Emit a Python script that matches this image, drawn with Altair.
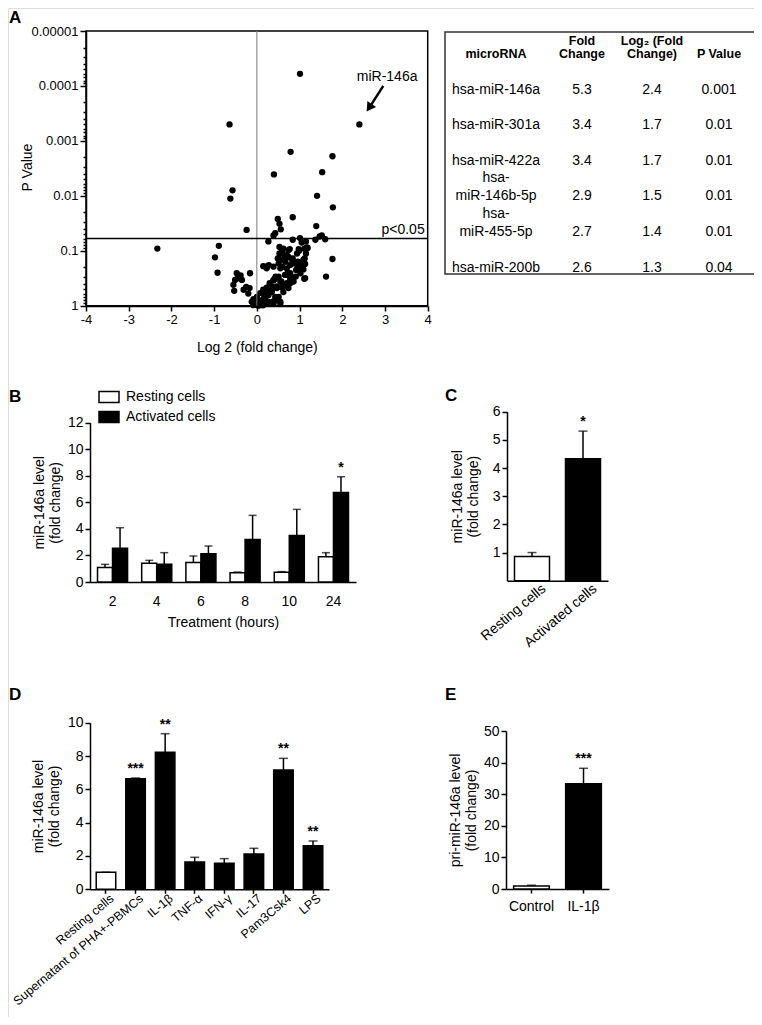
import altair as alt
import pandas as pd

FONT = "Liberation Sans"
W, H = 746, 1009

# ---------------- Panel A : volcano plot ----------------
A_LOG2FC = [
    1.01, 2.40, -0.64, 0.79, 1.77, 0.40, 1.53, -0.57, -0.62, 1.41,
    1.78, 0.84, 0.49, 0.53, 0.56, -0.24, 1.39, 0.43, 0.39, 0.27,
    0.84, 1.01, 1.05, 1.15, 1.37, 1.47, 1.52, 1.60, -2.33, -0.89,
    -0.98, -0.92, 1.77, 1.62, 0.53, 0.59, 0.74, 0.70, 0.99, 1.19,
    1.15, 0.51, 0.62, 0.82, 0.96, 1.09, 1.13, 1.05, 0.92, 0.15,
    0.23, 0.28, 0.70, 0.78, 0.82, 0.69, 1.11, 0.57,
    -0.47, -0.41, -0.51, -0.55, -0.35, -0.25, -0.16, -0.17, -0.53, -0.31, -0.44, -0.38, -0.20,
    0.43, 0.39, 0.31, 0.23, 0.15, 0.08, 0.00, -0.08, 0.01, 0.12, 0.19, 0.27, 0.35, 0.47,
    0.59, 0.66, 0.74, 0.78, 0.51, 0.43, 0.39, 0.55, 0.62, 0.27, 0.15, 0.04, -0.08,
    -0.04, -0.12, 0.00, 0.12, 0.23, 0.35, 0.47, 0.55,
    0.62, 0.77, 0.53, 0.64, 0.74, 0.84, 0.94, 0.98, 1.11, 1.17,
    1.12, 1.05, 0.96, 0.86, 0.78, 0.67, 0.59, 0.49, 0.51, 0.55,
    0.44, 0.66, 0.72, 0.78, 0.86, 0.91, 1.09, 1.13, 1.02, 0.70,
    0.62, 0.55, 0.47, 0.35, 0.27, 0.23, 0.20, 0.16, 0.12, 0.43,
    0.35, 0.30, 0.39, 0.21, 0.51, 0.39,
]
# -log10(P)
A_NEGLOG10P = [
    4.22, 3.30, 3.30, 2.80, 2.72, 2.39, 2.43, 2.10, 1.95, 2.00,
    1.79, 1.61, 1.58, 1.49, 1.39, 1.38, 1.45, 1.32, 1.28, 1.17,
    1.20, 1.23, 1.15, 1.17, 1.20, 1.26, 1.28, 1.21, 1.04, 1.09,
    0.88, 0.60, 0.85, 0.53, 1.07, 0.98, 1.01, 0.92, 1.00, 1.05,
    0.95, 0.86, 0.83, 0.84, 0.80, 0.84, 0.76, 0.68, 0.65, 0.72,
    0.68, 0.74, 0.68, 0.59, 0.50, 0.56, 0.49, 0.44,
    0.59, 0.53, 0.47, 0.38, 0.47, 0.34, 0.59, 0.32, 0.27, 0.29, 0.50, 0.55, 0.22,
    0.50, 0.46, 0.38, 0.33, 0.29, 0.23, 0.16, 0.12, 0.07, 0.10, 0.15, 0.19, 0.25, 0.32,
    0.33, 0.38, 0.32, 0.41, 0.16, 0.10, 0.04, 0.07, 0.25, 0.07, 0.01, 0.00, 0.01,
    0.10, 0.07, 0.01, 0.01, 0.04, 0.07, 0.10, 0.04,
    1.04, 1.03, 0.95, 0.92, 0.89, 0.86, 0.95, 1.03, 1.04, 1.06,
    0.86, 0.77, 0.71, 0.77, 0.74, 0.80, 0.71, 0.86, 0.77, 0.68,
    0.53, 0.56, 0.59, 0.48, 0.44, 0.53, 0.66, 0.50, 0.59, 0.41,
    0.35, 0.44, 0.35, 0.29, 0.22, 0.29, 0.19, 0.13, 0.07, 0.16,
    0.35, 0.41, 0.47, 0.71, 0.53, 0.71,
]
A_XTICKS = [-4, -3, -2, -1, 0, 1, 2, 3, 4]
A_DECADES = [0.00001, 0.0001, 0.001, 0.01, 0.1, 1.0]
A_THRESHOLD = 0.06
A_LABEL_POS = [3.05, 0.00007]
A_ARROW = [2.96, 0.0001, 2.63, 0.00025]

# ---------------- Table ----------------
T_HEADERS = ["microRNA", "Fold\nChange", "Log\u2082 (Fold\nChange)", "P Value"]
T_MIRNA = ["hsa-miR-146a", "hsa-miR-301a", "hsa-miR-422a", "hsa-\nmiR-146b-5p", "hsa-\nmiR-455-5p", "hsa-miR-200b"]
T_FOLD = ["5.3", "3.4", "3.4", "2.9", "2.7", "2.6"]
T_LOG2 = ["2.4", "1.7", "1.7", "1.5", "1.4", "1.3"]
T_PVAL = ["0.001", "0.01", "0.01", "0.01", "0.01", "0.04"]

# ---------------- Panel B ----------------
B_HOURS = ["2", "4", "6", "8", "10", "24"]
B_SERIES = ["Resting cells", "Activated cells"]
B_REST = [1.10, 1.41, 1.46, 0.70, 0.73, 1.91]
B_REST_SEM = [0.23, 0.22, 0.50, 0.05, 0.05, 0.30]
B_ACT = [2.54, 1.33, 2.13, 3.21, 3.51, 6.75]
B_ACT_SEM = [1.55, 0.88, 0.58, 1.81, 1.96, 1.18]
B_ACT_SIG = ["", "", "", "", "", "*"]

# ---------------- Panel C ----------------
C_GROUPS = ["Resting cells", "Activated cells"]
C_MEAN = [0.86, 4.33]
C_SEM = [0.14, 0.98]
C_SIG = ["", "*"]
C_FILL = ["white", "black"]

# ---------------- Panel D ----------------
D_GROUPS = ["Resting cells", "Supernatant of PHA+-PBMCs", "IL-1\u03b2", "TNF-\u03b1",
            "IFN-\u03b3", "IL-17", "Pam3Csk4", "LPS"]
D_MEAN = [1.02, 6.64, 8.22, 1.64, 1.56, 2.12, 7.16, 2.62]
D_SEM = [0.0, 0.04, 1.12, 0.28, 0.28, 0.34, 0.70, 0.28]
D_SIG = ["", "***", "**", "", "", "", "**", "**"]
D_FILL = ["white"] + ["black"] * 7

# ---------------- Panel E ----------------
E_GROUPS = ["Control", "IL-1\u03b2"]
E_MEAN = [0.95, 33.3]
E_SEM = [0.25, 4.9]
E_SIG = ["", "***"]
E_FILL = ["white", "black"]


def ax(**kw):
    base = dict(domainColor="black", domainWidth=1.5, tickColor="black", tickWidth=1.5,
                labelColor="black", labelFont=FONT, labelFontSize=14, titleFont=FONT,
                titleFontSize=14, titleFontWeight="normal", titleColor="black", grid=False,
                labelLimit=400, labelFlush=False)
    base.update(kw)
    return alt.Axis(**base)


# ===== Panel A =====
df_a = pd.DataFrame({"log2fc": A_LOG2FC, "nlp": A_NEGLOG10P})
xA = alt.Scale(domain=[-4, 4], range=[78, 419.7], nice=False, zero=False)
yA = alt.Scale(type="log", domain=[0.00001, 1], range=[23, 297.7], nice=False)
minor_vals = sorted(set([round(k * d, 10) for d in A_DECADES[:-1] for k in range(1, 10)] + [1.0]))
is_dec = "indexof([0.00001,0.0001,0.001,0.01,0.1,1], datum.value) >= 0"

a_points = alt.Chart(df_a).transform_calculate(p="pow(10, -datum.nlp)").mark_circle(
    size=40, color="black", opacity=1
).encode(
    x=alt.X("log2fc:Q", scale=xA,
            axis=ax(orient="bottom", offset=298 - H, values=A_XTICKS, labelExpr="datum.value + ''",
                    labelAlign="center", tickSize=5, labelFontSize=13, title="Log 2 (fold change)",
                    titlePadding=14)),
    y=alt.Y("p:Q", scale=yA,
            axis=ax(orient="left", offset=-78, values=minor_vals,
                    labelExpr=f"{is_dec} ? format(datum.value, '~g') : ''",
                    labelBaseline="middle", labelAlign="right",
                    tickSize={"condition": {"test": is_dec, "value": 6}, "value": 3},
                    labelFontSize=13, title="P Value", titleX=-52, titleY=159)),
)
one = pd.DataFrame({"k": [0]})
a_frame = alt.Chart(one).mark_rect(fillOpacity=0, stroke="black", strokeWidth=1.5).encode(
    x=alt.X(datum=-4, scale=xA), x2=alt.X2(datum=4),
    y=alt.Y(datum=0.00001, scale=yA), y2=alt.Y2(datum=1))
a_vline = alt.Chart(one).mark_rule(color="#7a7a7a", strokeWidth=1).encode(
    x=alt.X(datum=0, scale=xA), y=alt.Y(datum=0.00001, scale=yA), y2=alt.Y2(datum=1))
a_hline = alt.Chart(one).mark_rule(color="black", strokeWidth=1.5).encode(
    y=alt.Y(datum=A_THRESHOLD, scale=yA), x=alt.X(datum=-4, scale=xA), x2=alt.X2(datum=4))
a_ptxt = alt.Chart(one).mark_text(text="p<0.05", align="right", baseline="bottom", dx=-3, dy=-2,
                                  font=FONT, fontSize=14, color="black").encode(
    x=alt.X(datum=4, scale=xA), y=alt.Y(datum=A_THRESHOLD, scale=yA))
a_lbl = alt.Chart(one).mark_text(text="miR-146a", font=FONT, fontSize=14, color="black").encode(
    x=alt.X(datum=A_LABEL_POS[0], scale=xA), y=alt.Y(datum=A_LABEL_POS[1], scale=yA))
df_arrow = pd.DataFrame({"x0": [A_ARROW[0]], "y0": [A_ARROW[1]], "x1": [A_ARROW[2]], "y1": [A_ARROW[3]]})
a_arrow = alt.Chart(df_arrow).mark_rule(color="black", strokeWidth=2.5).encode(
    x=alt.X("x0:Q", scale=xA), y=alt.Y("y0:Q", scale=yA), x2="x1:Q", y2="y1:Q")
a_head = alt.Chart(df_arrow).mark_point(shape="triangle-up", filled=True, color="black", opacity=1,
                                        size=110, angle=214).encode(
    x=alt.X("x1:Q", scale=xA), y=alt.Y("y1:Q", scale=yA))
panelA = alt.layer(a_frame, a_points, a_vline, a_hline, a_ptxt, a_lbl, a_arrow, a_head)

# ===== Table =====
t_rows = []
for c, h in enumerate(T_HEADERS):
    t_rows.append({"col": c, "row": 0, "txt": h, "kind": "head2" if "\n" in h else "head1"})
for r in range(6):
    for c, lst in enumerate([T_MIRNA, T_FOLD, T_LOG2, T_PVAL]):
        t = lst[r]
        t_rows.append({"col": c, "row": r + 1, "txt": t, "kind": "body2" if "\n" in t else "body1"})
df_t = pd.DataFrame(t_rows)
xT = alt.Scale(domain=[0, 1, 2, 3], range=[488, 574, 644, 711], nice=False, zero=False)
yT = alt.Scale(domain=[0, 6], range=[53, 266.5], nice=False, zero=False)


def t_layer(kind, size, weight, lh, dy):
    return alt.Chart(df_t).transform_filter(f"datum.kind == '{kind}'").mark_text(
        font=FONT, fontSize=size, fontWeight=weight, baseline="bottom", lineBreak="\n",
        lineHeight=lh, dy=dy, color="black").encode(
        x=alt.X("col:Q", scale=xT, axis=None), y=alt.Y("row:Q", scale=yT, axis=None), text="txt:N")


t_border = alt.Chart(one).mark_rect(fillOpacity=0, stroke="#333333", strokeWidth=1.5).encode(
    x=alt.value(437), x2=alt.value(752), y=alt.value(24), y2=alt.value(266))
panelT = alt.layer(t_border,
                   t_layer("head1", 12.5, "bold", 13.5, 0), t_layer("head2", 12.5, "bold", 13.5, -13.5),
                   t_layer("body1", 14, "normal", 18, 0), t_layer("body2", 14, "normal", 18, -18))


# ===== Generic bar panel helper =====
def bar_panel(df, groups, x_range, pad_in, pad_out, x_axis, y_domain, y_range, y_axis):
    xs = alt.Scale(domain=groups, range=x_range, paddingInner=pad_in, paddingOuter=pad_out)
    ys = alt.Scale(domain=y_domain, range=y_range, nice=False, zero=False)
    base = alt.Chart(df).transform_calculate(upper="datum.mean + datum.sem")
    bars = base.mark_bar(stroke="black", strokeWidth=1.5).encode(
        x=alt.X("group:N", sort=groups, scale=xs, axis=x_axis),
        y=alt.Y("mean:Q", scale=ys, axis=y_axis),
        fill=alt.Fill("fillc:N", scale=None))
    err = base.mark_rule(color="black", strokeWidth=1.5).encode(
        x=alt.X("group:N", sort=groups, scale=xs), y=alt.Y("mean:Q", scale=ys), y2="upper:Q")
    cap = base.mark_tick(color="black", thickness=1.5, size=9).encode(
        x=alt.X("group:N", sort=groups, scale=xs), y=alt.Y("upper:Q", scale=ys))
    sig = base.mark_text(font=FONT, fontSize=14, fontWeight="bold", baseline="bottom", dy=-2,
                         color="black").encode(
        x=alt.X("group:N", sort=groups, scale=xs), y=alt.Y("upper:Q", scale=ys), text="sig:N")
    return alt.layer(err, cap, bars, sig)


# ===== Panel B =====
df_b = pd.DataFrame({
    "hour": B_HOURS * 2,
    "series": [B_SERIES[0]] * 6 + [B_SERIES[1]] * 6,
    "mean": B_REST + B_ACT,
    "sem": B_REST_SEM + B_ACT_SEM,
    "sig": [""] * 6 + B_ACT_SIG,
})
xB = alt.Scale(domain=B_HOURS, range=[82, 348], paddingInner=0.32, paddingOuter=0.17)
yB = alt.Scale(domain=[0, 12], range=[574, 414.7], nice=False, zero=False)
xoB = alt.Scale(domain=B_SERIES, paddingInner=0, paddingOuter=0)
baseB = alt.Chart(df_b).transform_calculate(upper="datum.mean + datum.sem")
b_bars = baseB.mark_bar(stroke="black", strokeWidth=1.5).encode(
    x=alt.X("hour:N", sort=B_HOURS, scale=xB,
            axis=ax(orient="bottom", offset=574 - H, ticks=False, labelAngle=0, labelAlign="center",
                    labelBaseline="top", labelPadding=12, title="Treatment (hours)", titlePadding=7)),
    xOffset=alt.XOffset("series:N", sort=B_SERIES, scale=xoB),
    y=alt.Y("mean:Q", scale=yB,
            axis=ax(orient="left", offset=-82, values=list(range(0, 13, 2)), format="d", tickSize=5,
                    title=["miR-146a level", "(fold change)"], titlePadding=5)),
    fill=alt.Fill("series:N", sort=B_SERIES,
                  scale=alt.Scale(domain=B_SERIES, range=["white", "black"]),
                  legend=alt.Legend(orient="none", legendX=90, legendY=378, title=None,
                                    symbolType="M-1,-0.55H1V0.55H-1Z", symbolSize=400,
                                    symbolStrokeColor="black", symbolStrokeWidth=1.5,
                                    symbolOpacity=1, labelFont=FONT, labelFontSize=14,
                                    labelColor="black", labelOffset=6, rowPadding=0, padding=0)))
b_err = baseB.mark_rule(color="black", strokeWidth=1.5).encode(
    x=alt.X("hour:N", sort=B_HOURS, scale=xB), xOffset=alt.XOffset("series:N", sort=B_SERIES, scale=xoB),
    y=alt.Y("mean:Q", scale=yB), y2="upper:Q")
b_cap = baseB.mark_tick(color="black", thickness=1.5, size=8).encode(
    x=alt.X("hour:N", sort=B_HOURS, scale=xB), xOffset=alt.XOffset("series:N", sort=B_SERIES, scale=xoB),
    y=alt.Y("upper:Q", scale=yB))
b_sig = baseB.mark_text(font=FONT, fontSize=14, fontWeight="bold", baseline="bottom", dy=-2,
                        color="black").encode(
    x=alt.X("hour:N", sort=B_HOURS, scale=xB), xOffset=alt.XOffset("series:N", sort=B_SERIES, scale=xoB),
    y=alt.Y("upper:Q", scale=yB), text="sig:N")
panelB = alt.layer(b_err, b_cap, b_bars, b_sig)

# ===== Panel C =====
df_c = pd.DataFrame({"group": C_GROUPS, "mean": C_MEAN, "sem": C_SEM, "sig": C_SIG, "fillc": C_FILL})
panelC = bar_panel(
    df_c, C_GROUPS, [499, 600], 0.314, 0.147,
    ax(orient="bottom", offset=572.7 - H, ticks=False, labelAngle=-40, labelAlign="right",
       labelPadding=6, labelOffset=12, title=None),
    [0, 6], [572.7, 403.7],
    ax(orient="left", offset=-499, values=[1, 2, 3, 4, 5, 6], format="d", tickSize=5,
       title=["miR-146a level", "(fold change)"], titlePadding=12))

# ===== Panel D =====
df_d = pd.DataFrame({"group": D_GROUPS, "mean": D_MEAN, "sem": D_SEM, "sig": D_SIG, "fillc": D_FILL})
panelD = bar_panel(
    df_d, D_GROUPS, [82, 321], 0.34, 0.21,
    ax(orient="bottom", offset=881.3 - H, ticks=True, tickSize=4, labelAngle=-40, labelAlign="right",
       labelPadding=3, labelFontSize=12.5, labelOffset=6, title=None),
    [0, 10], [881.3, 714.7],
    ax(orient="left", offset=-82, values=[0, 2, 4, 6, 8, 10], format="d", tickSize=5,
       title=["miR-146a level", "(fold change)"], titlePadding=6))

# ===== Panel E =====
df_e = pd.DataFrame({"group": E_GROUPS, "mean": E_MEAN, "sem": E_SEM, "sig": E_SIG, "fillc": E_FILL})
panelE = bar_panel(
    df_e, E_GROUPS, [498, 601], 0.314, 0.147,
    ax(orient="bottom", offset=881 - H, ticks=True, tickSize=4, labelAngle=0, labelAlign="center",
       labelBaseline="top", labelPadding=6, title=None),
    [0, 50], [881, 723],
    ax(orient="left", offset=-498, values=[0, 10, 20, 30, 40, 50], format="d", tickSize=5,
       title=["pri-miR-146a level", "(fold change)"], titlePadding=5))


# ===== Panel letters =====
def letter(t, x, y):
    return alt.Chart(one).mark_text(text=t, font=FONT, fontSize=17, fontWeight="bold", align="left",
                                    baseline="middle", color="black").encode(
        x=alt.value(x), y=alt.value(y))


letters = alt.layer(letter("A", 1, 10), letter("B", 1, 389), letter("C", 437, 388),
                    letter("D", 1, 687), letter("E", 437, 687))

chart = alt.layer(panelA, panelT, panelB, panelC, panelD, panelE, letters).resolve_scale(
    x="independent", y="independent", fill="independent"
).properties(
    width=W, height=H, padding=0, autosize=alt.AutoSizeParams(type="none")
).configure_view(stroke=None).configure(font=FONT)

chart.save("out.html", embed_options={"renderer": "svg", "actions": False})
